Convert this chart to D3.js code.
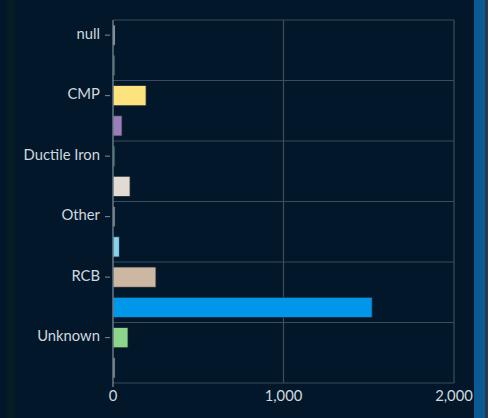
<!DOCTYPE html>
<html><head><meta charset="utf-8">
<script src="https://cdn.jsdelivr.net/npm/d3@7"></script>
<style>
html,body{margin:0;padding:0;background:#03172a;}
svg{display:block;}
</style></head>
<body>
<svg id="c" width="488" height="418"></svg>
<script>
const categories = ["null","CI","CMP","Concrete","Ductile Iron","HDPE","Other","PVC","RCB","RCP","Unknown","VCP"];
const shownLabels = ["null","CMP","Ductile Iron","Other","RCB","Unknown"];
const values = [10, 8, 194, 53, 8, 100, 5, 37, 252, 1520, 88, 5];
const colors = ["#d4d2e2","#3d7d5e","#fde37e","#9b7db8","#2e7d78","#e2dbd4","#a8aabb","#86d2ec","#cbb7a2","#0096ea","#8bd68b","#a9abb8"];
const xTicks = [0, 1000, 2000];

(function () {
const svg = d3.select("#c");
const W = 488, H = 418;
svg.append("rect").attr("width", W).attr("height", H).attr("fill", "#03172a");
svg.append("rect").attr("x", 7).attr("y", 0).attr("width", 8).attr("height", H).attr("fill", "#04211f").attr("opacity", 0.6);
svg.append("rect").attr("x", 474).attr("y", 0).attr("width", 11).attr("height", H).attr("fill", "#0b5a96");
svg.append("rect").attr("x", 485).attr("y", 0).attr("width", 3).attr("height", H).attr("fill", "#2a3a48");

const mLeft = 113, mRight = 454, mTop = 20, mBottom = 383;
const x = d3.scaleLinear().domain([0, 2000]).range([mLeft, mRight]);
const y = d3.scaleBand().domain(categories).range([mTop, mBottom]).paddingInner(0.33).paddingOuter(0.165);
const step = y.step();

const grid = svg.append("g");
const bounds = [];
categories.forEach((c, i) => { if (i % 2 === 0) bounds.push(y(c) - step * 0.165); });
bounds.push(mBottom);
grid.selectAll("line.h").data(bounds).join("line").attr("class", "h")
  .attr("x1", mLeft).attr("x2", mRight).attr("y1", d => d).attr("y2", d => d)
  .attr("stroke", "#3b4d5c").attr("stroke-width", 1.2);
grid.selectAll("line.v").data(xTicks.slice(1)).join("line").attr("class", "v")
  .attr("x1", d => x(d)).attr("x2", d => x(d)).attr("y1", mTop).attr("y2", mBottom)
  .attr("stroke", "#3b4d5c").attr("stroke-width", 1.2);

svg.append("g").selectAll("rect").data(categories).join("rect")
  .attr("x", x(0))
  .attr("y", d => y(d))
  .attr("width", (d, i) => Math.max(2, x(values[i]) - x(0)))
  .attr("height", y.bandwidth())
  .attr("fill", (d, i) => colors[i])
  .attr("stroke", "#1a2430").attr("stroke-width", 0.8);

svg.append("line").attr("x1", mLeft).attr("x2", mLeft).attr("y1", mTop).attr("y2", mBottom + 4)
  .attr("stroke", "#7f8e9a").attr("stroke-width", 1.2);
const yl = svg.append("g");
categories.forEach(c => {
  if (!shownLabels.includes(c)) return;
  const cy = y(c) + y.bandwidth() / 2;
  yl.append("line").attr("x1", 105).attr("x2", 110).attr("y1", cy).attr("y2", cy)
    .attr("stroke", "#7f8e9a").attr("stroke-width", 1);
  yl.append("text").attr("x", 100).attr("y", cy - 1).attr("dy", "0.3em")
    .attr("text-anchor", "end").attr("fill", "#d0d8df")
    .attr("font-family", "Lato, 'Open Sans', sans-serif").attr("font-size", 14.8)
    .text(c);
});

svg.append("g").selectAll("text").data(xTicks).join("text")
  .attr("x", d => x(d)).attr("y", 401)
  .attr("text-anchor", "middle").attr("fill", "#d0d8df")
  .attr("font-family", "Lato, 'Open Sans', sans-serif").attr("font-size", 14.8)
  .text(d => d3.format(",")(d));
})();
</script>
</body></html>
